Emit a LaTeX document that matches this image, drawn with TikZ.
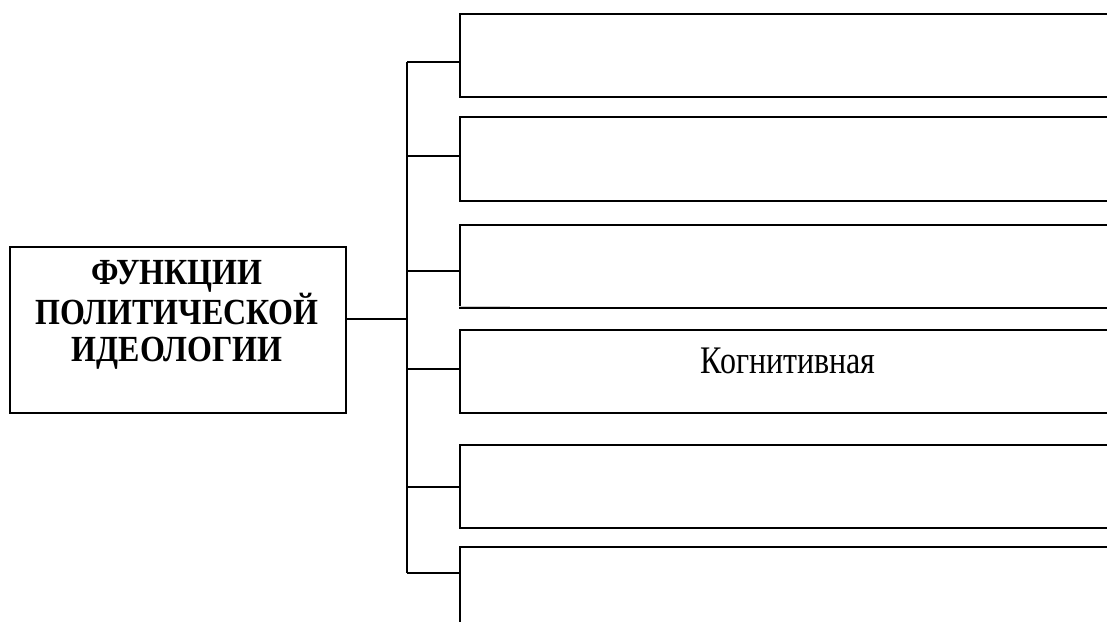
\documentclass[tikz,border=0pt]{standalone}
\usepackage{fontspec}
\setmainfont{Liberation Serif}
\begin{document}
\begin{tikzpicture}[x=1pt,y=-1pt,
  frame/.style={draw=black, line width=1.6pt, inner sep=0pt, anchor=north west},
  link/.style={draw=black, line width=1.6pt},
  title/.style={font=\fontsize{32}{32.2}\selectfont\bfseries, align=center, yscale=1.15, transform shape},
  label/.style={font=\fontsize{32}{36}\selectfont, yscale=1.22, transform shape}]
\useasboundingbox (0,0) rectangle (1107,621);
\node[frame, minimum width=336pt, minimum height=166pt] (main) at (9,246) {};
\node[title] (mt) at (177,315) {ФУНКЦИИ\\ПОЛИТИЧЕСКОЙ\\ИДЕОЛОГИИ};
\node[frame, minimum width=700pt, minimum height=83pt] (b1) at (459,13) {};
\node[frame, minimum width=700pt, minimum height=84pt] (b2) at (459,116) {};
\node[frame, minimum width=700pt, minimum height=83pt] (b3) at (459,224) {};
\node[frame, minimum width=700pt, minimum height=83pt] (b4) at (459,329) {};
\node[frame, minimum width=700pt, minimum height=83pt] (b5) at (459,444) {};
\node[frame, minimum width=700pt, minimum height=120pt] (b6) at (459,546) {};
\node[label] (t4) at (788,361) {Когнитивная};
\coordinate (s1) at (407,62);
\coordinate (s2) at (407,156);
\coordinate (s3) at (407,271);
\coordinate (s4) at (407,369);
\coordinate (s5) at (407,487);
\coordinate (s6) at (407,573);
\draw[link] (main.east |- 0,319) -- (s1 |- 0,319);
\draw[link] (s1) -- (s6);
\draw[link] (s1) -- (s1 -| b1.west);
\draw[link] (s2) -- (s2 -| b2.west);
\draw[link] (s3) -- (s3 -| b3.west);
\draw[link] (s4) -- (s4 -| b4.west);
\draw[link] (s5) -- (s5 -| b5.west);
\draw[link] (s6) -- (s6 -| b6.west);
\draw[gray!40, line width=1pt] ([yshift=1.8pt]b3.south west) -- ++(51,0);
\end{tikzpicture}
\end{document}
